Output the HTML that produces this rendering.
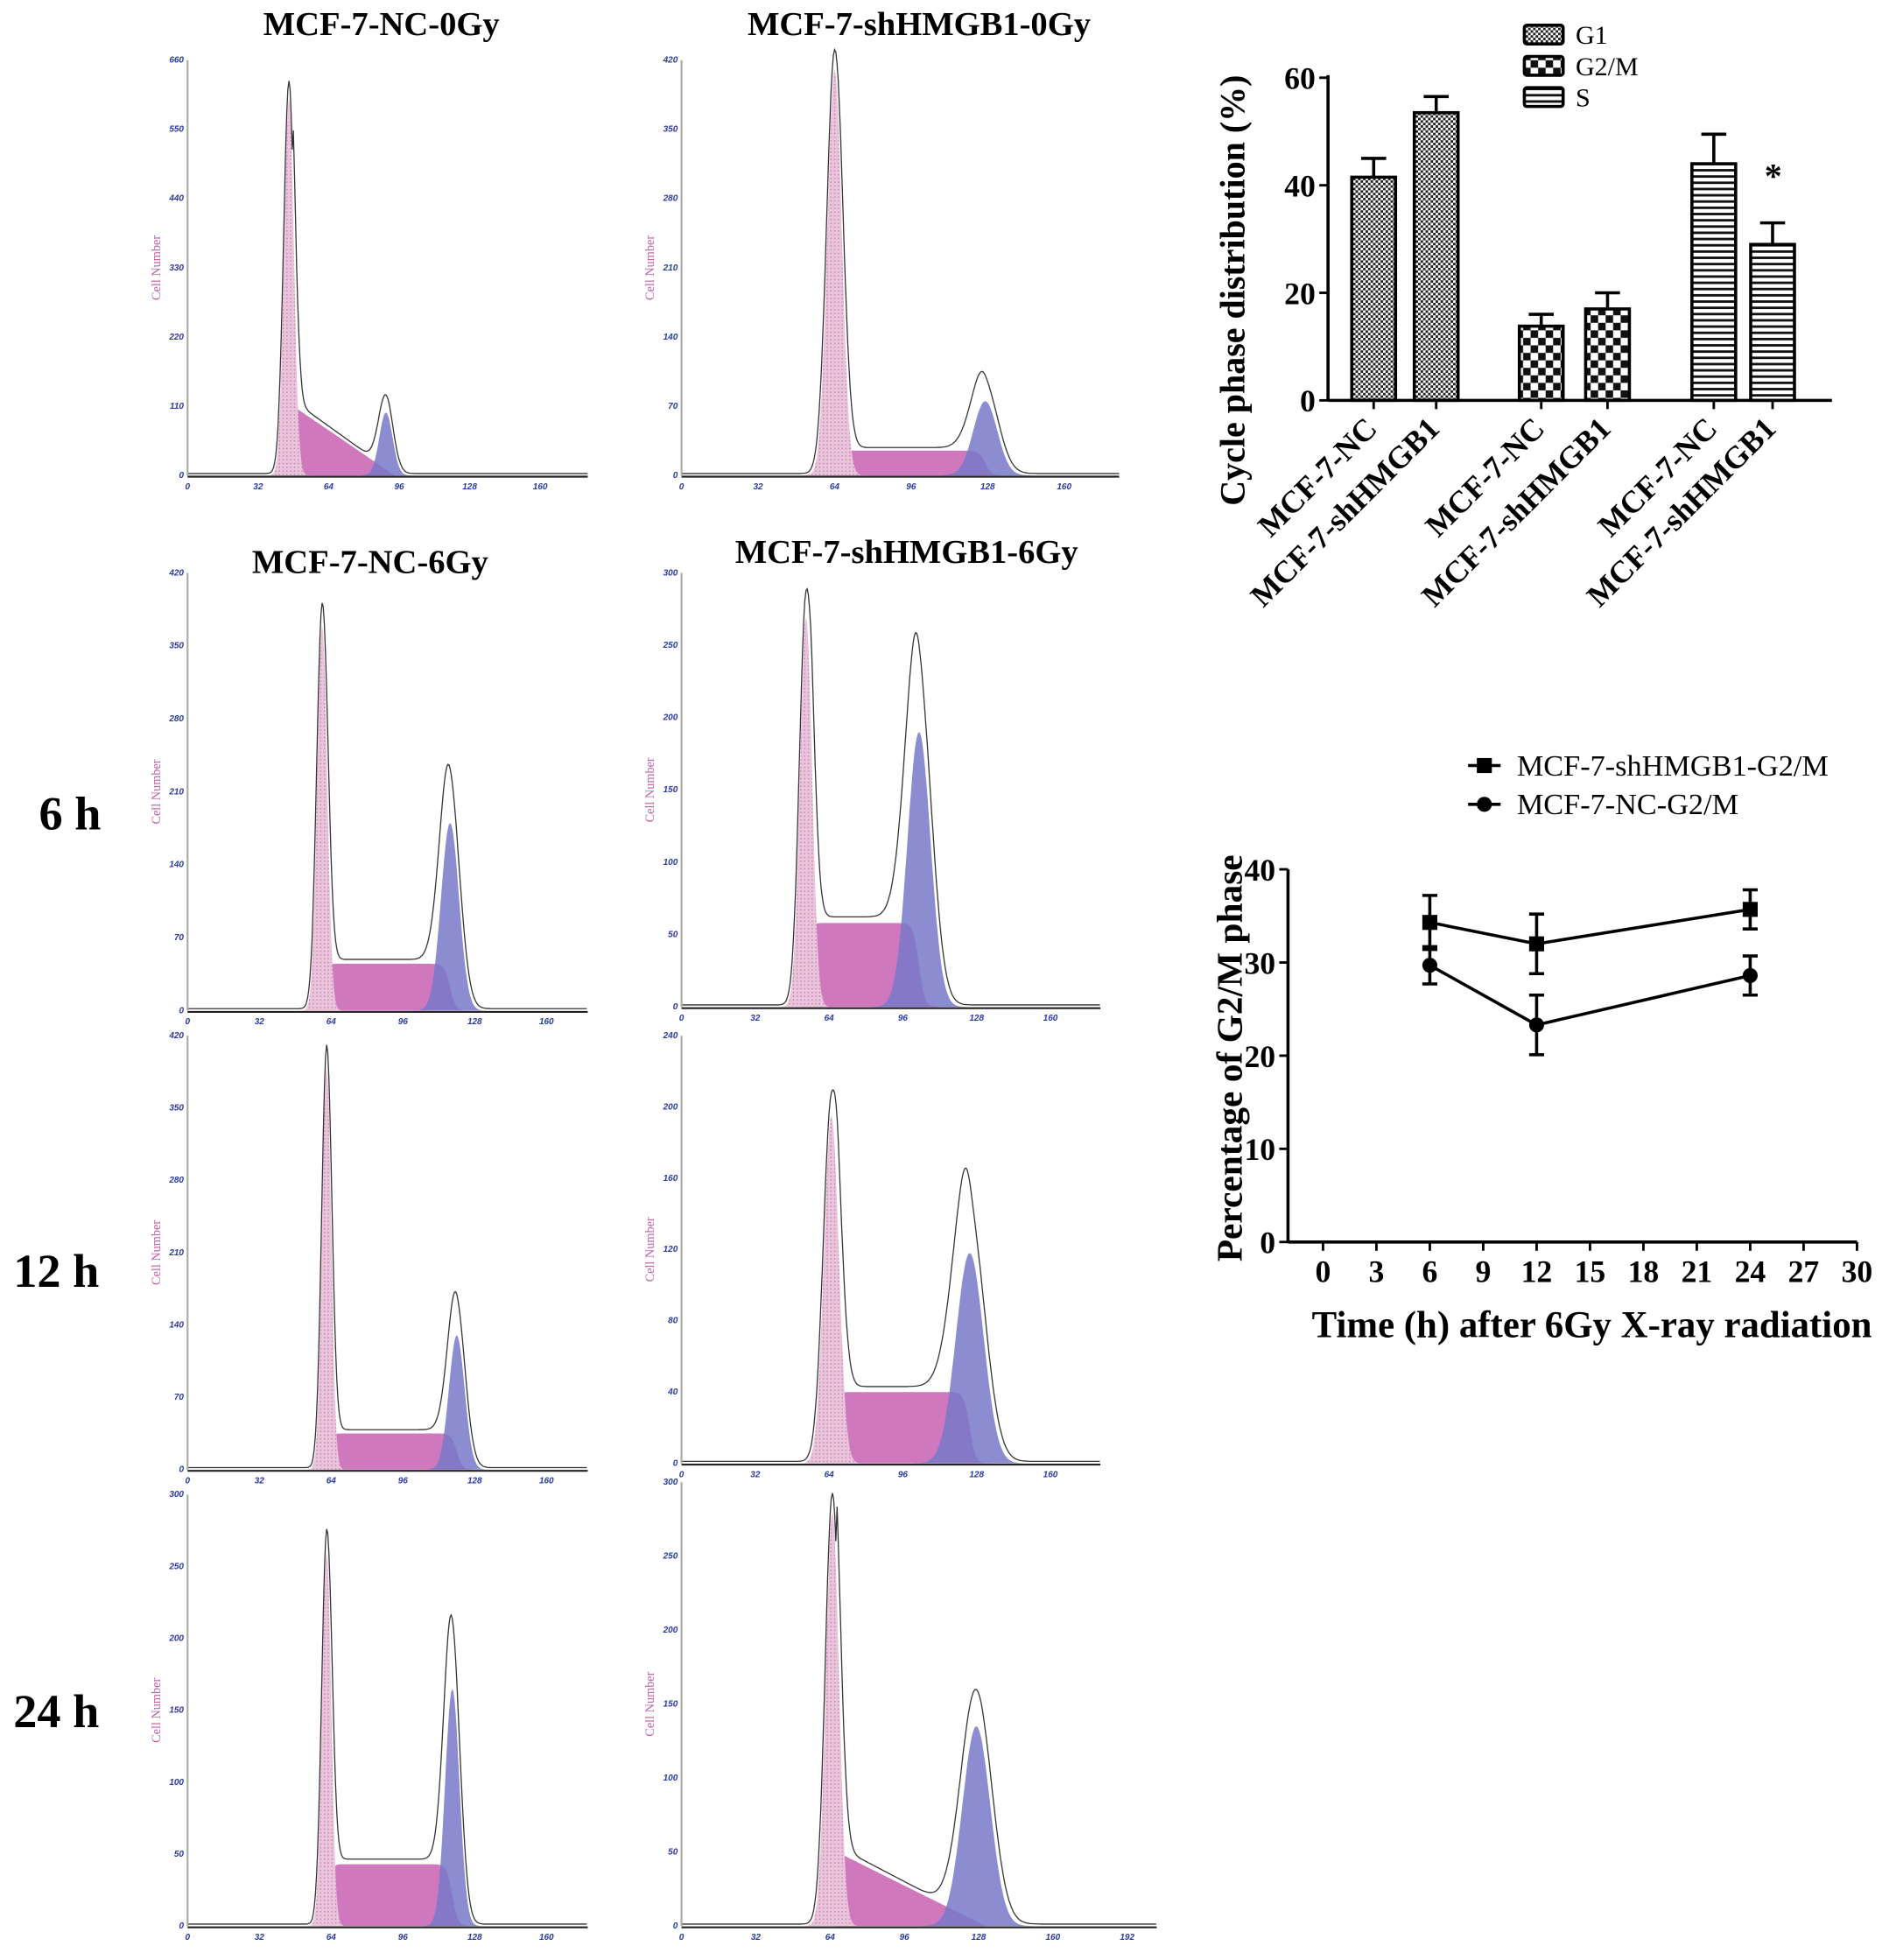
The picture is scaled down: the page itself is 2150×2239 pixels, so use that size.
<!DOCTYPE html>
<html><head><meta charset="utf-8"><style>
html,body{margin:0;padding:0;background:#fff}
svg{display:block}
text{font-family:"Liberation Serif",serif}
.b{font-weight:bold}
.tk{font-family:"Liberation Sans",sans-serif;font-size:7px;fill:#2a3aa0;font-weight:bold;font-style:italic}
</style></head><body>
<svg id="root" width="2150" height="2239" viewBox="0 0 1505 1567" xmlns="http://www.w3.org/2000/svg">
<defs>
<pattern id="pG1" width="4" height="4" patternUnits="userSpaceOnUse"><rect width="4" height="4" fill="#fff"/><rect width="2" height="2" fill="#222"/><rect x="2" y="2" width="2" height="2" fill="#222"/></pattern>
<pattern id="pG2" width="12" height="12" patternUnits="userSpaceOnUse"><rect width="12" height="12" fill="#fff"/><rect width="6" height="6" fill="#111"/><rect x="6" y="6" width="6" height="6" fill="#111"/></pattern>
<pattern id="pS" width="6" height="5" patternUnits="userSpaceOnUse"><rect width="6" height="5" fill="#fff"/><rect width="6" height="2" fill="#111"/></pattern>
<pattern id="dots" width="3" height="3" patternUnits="userSpaceOnUse"><rect width="3" height="3" fill="#ecc3dd"/><circle cx="1.5" cy="1.5" r="0.6" fill="#b98aa8"/></pattern>
</defs>
<g id="hist"></g>
<g id="bars"></g>
<g id="lines"></g>
<text class="b" x="56" y="663" font-size="38" text-anchor="middle">6 h</text>
<text class="b" x="45" y="1029" font-size="38" text-anchor="middle">12 h</text>
<text class="b" x="45" y="1381" font-size="38" text-anchor="middle">24 h</text>
</svg>
<script>
const NS="http://www.w3.org/2000/svg";
function mk(p,tag,at,txt){const e=document.createElementNS(NS,tag);for(const k in at)e.setAttribute(k,at[k]);if(txt!=null)e.textContent=txt;p.appendChild(e);return e;}

/* ---------- Bar chart data ---------- */
const barCats=["MCF-7-NC","MCF-7-shHMGB1","MCF-7-NC","MCF-7-shHMGB1","MCF-7-NC","MCF-7-shHMGB1"];
const barPhase=["G1","G1","G2/M","G2/M","S","S"];
const barVals=[41.5,53.5,13.8,17,44,29];
const barErr=[3.5,3,2.2,3,5.5,4];
const barTicks=[0,20,40,60];
const legendPhases=["G1","G2/M","S"];

/* ---------- Line chart data ---------- */
const timeX=[6,12,24];
const shVals=[34.3,32,35.7];
const shErr=[2.9,3.2,2.1];
const ncVals=[29.7,23.3,28.6];
const ncErr=[2.0,3.2,2.1];
const lineXTicks=[0,3,6,9,12,15,18,21,24,27,30];
const lineYTicks=[0,10,20,30,40];

/* ---------- Histogram panel data (channel units / counts) ---------- */
const histTitles=["MCF-7-NC-0Gy","MCF-7-shHMGB1-0Gy","MCF-7-NC-6Gy","MCF-7-shHMGB1-6Gy","","","",""];
const histYMax=[660,420,420,300,420,240,300,300];
const histG1Mean=[46,64,60,54,62,65,62,65];
const histG1Height=[600,410,370,270,390,195,260,280];
const histG1Sd=[2.2,3,2.2,2.6,2.0,3.2,2.0,2.8];
const histSLevel=[110,25,45,58,35,40,43,50];
const histG2Mean=[90,127,117,103,120,125,118,127];
const histG2Height=[100,75,180,190,130,118,165,135];
const histG2Sd=[3,5,4,5,3.5,6,3.2,6];
const histSType=["tri","flat","flat","flat","flat","flat","flat","tri"];

const panelBox=[
 {x0:150,top:48,bot:380,x160:432,xe:470,tx:305,ty:28},
 {x0:545,top:48,bot:380,x160:851,xe:895,tx:735,ty:28},
 {x0:150,top:458,bot:808,x160:437,xe:470,tx:296,ty:458},
 {x0:545,top:458,bot:805,x160:840,xe:880,tx:725,ty:450},
 {x0:150,top:828,bot:1175,x160:437,xe:470},
 {x0:545,top:828,bot:1170,x160:840,xe:880},
 {x0:150,top:1195,bot:1540,x160:437,xe:470},
 {x0:545,top:1185,bot:1540,x160:842,xe:925}];

const H=document.getElementById('hist');
function gauss(c,m,h,s){return h*Math.exp(-(c-m)*(c-m)/(2*s*s));}
function sig(z){return 1/(1+Math.exp(-z));}
panelBox.forEach((b,i)=>{
  const g=mk(H,'g',{});
  
  
  const sx=(b.x160-b.x0)/160, ymax=histYMax[i];
  const X=c=>b.x0+c*sx, Y=v=>b.bot-v/ymax*(b.bot-b.top);
  const m1=histG1Mean[i], m2=histG2Mean[i];
  const sComp=c=>{
    const lv=histSLevel[i];
    if(histSType[i]==="tri"){ if(c<m1+2||c>m2+4) return 0; return lv*(1-(c-m1-2)/(m2+4-m1-2))*sig((c-m1-1)*2);}
    return lv*sig((c-m1-1.5)*1.5)*sig((m2-c)*0.8);
  };
  const cEnd=(b.xe-b.x0)/sx;
  function area(f,fill,name){
    let d='M'+X(0)+','+Y(0);
    for(let c=0;c<=cEnd;c+=0.5){d+=' L'+X(c).toFixed(1)+','+Y(f(c)).toFixed(1);}
    d+=' L'+X(cEnd)+','+Y(0)+'Z';
    const p=mk(g,'path',{d:d,fill:fill,stroke:'none'});
    
    
  }
  area(c=>sComp(c),'#cf78bd','s-phase-area');
  area(c=>gauss(c,m2,histG2Height[i],histG2Sd[i]),'rgba(120,120,200,0.85)','g2-phase-area');
  area(c=>gauss(c,m1,histG1Height[i],histG1Sd[i]),'url(#dots)','g1-phase-area');
  let d='';
  for(let c=0;c<=cEnd;c+=0.5){
    const v=gauss(c,m1,histG1Height[i]*1.04,histG1Sd[i]*1.1)+sComp(c)*1.05+gauss(c,m2,histG2Height[i]*1.15,histG2Sd[i]*1.1)+3/660*ymax;
    d+=(c===0?'M':' L')+X(c).toFixed(1)+','+Y(v).toFixed(1);
  }
  const o=mk(g,'path',{d:d,fill:'none',stroke:'#333','stroke-width':0.9});
  
  
  const ya=mk(g,'line',{x1:b.x0,y1:b.top,x2:b.x0,y2:b.bot,stroke:'#aaa','stroke-width':1.5});
  
  
  const xa=mk(g,'line',{x1:b.x0,y1:b.bot+1,x2:b.xe,y2:b.bot+1,stroke:'#222','stroke-width':1.5});
  
  
  const step=ymax/6;
  for(let k=0;k<=6;k++){
    const t=mk(g,'text',{class:'tk',x:b.x0-3,y:Y(k*step)+2,'text-anchor':'end'},String(Math.round(k*step)));
    
    
  }
  const nx=Math.floor(cEnd/32);
  for(let k=0;k<=nx;k++){
    const t=mk(g,'text',{class:'tk',x:X(k*32),y:b.bot+11,'text-anchor':'middle'},String(k*32));
    
    
  }
  const cy=(b.top+b.bot)/2;
  const yl=mk(g,'text',{x:b.x0-22,y:cy,'font-size':10,fill:'#c060a8','font-family':'Liberation Sans, sans-serif','text-anchor':'middle',transform:'rotate(-90 '+(b.x0-22)+' '+cy+')'},'Cell Number');
  
  
  if(histTitles[i]){
    const tt=mk(g,'text',{class:'b',x:b.tx,y:b.ty,'font-size':27,'text-anchor':'middle'},histTitles[i]);
    
    
  }
});

/* ---------- Bar chart ---------- */
const B=document.getElementById('bars');
const bx0=1062,by0=320,by60=62,bxe=1465;
const yB=v=>by0-v*(by0-by60)/60;
const barLeft=[1081,1131,1215,1268,1353,1400];
const bw=35;
const fillFor={"G1":"url(#pG1)","G2/M":"url(#pG2)","S":"url(#pS)"};
barVals.forEach((v,i)=>{
  const cx=barLeft[i]+bw/2;
  const e=mk(B,'line',{x1:cx,y1:yB(v),x2:cx,y2:yB(v+barErr[i]),stroke:'#000','stroke-width':2.5});
  
  
  const c=mk(B,'line',{x1:cx-10,y1:yB(v+barErr[i]),x2:cx+10,y2:yB(v+barErr[i]),stroke:'#000','stroke-width':2.5});
  
  
  const r=mk(B,'rect',{x:barLeft[i],y:yB(v),width:bw,height:yB(0)-yB(v),fill:fillFor[barPhase[i]],stroke:'#000','stroke-width':2.5});
  
  
  const t=mk(B,'line',{x1:cx,y1:by0,x2:cx,y2:by0+7,stroke:'#000','stroke-width':2});
  
  
  const l=mk(B,'text',{class:'b',x:cx+4,y:by0+24,'font-size':25,'text-anchor':'end',transform:'rotate(-45 '+(cx+4)+' '+(by0+24)+')'},barCats[i]);
  
  
});
const star=mk(B,'text',{class:'b',x:1418,y:150,'font-size':28,'text-anchor':'middle'},'*');


const bya=mk(B,'line',{x1:bx0,y1:by60-2,x2:bx0,y2:by0,stroke:'#000','stroke-width':2.5});


const bxa=mk(B,'line',{x1:bx0,y1:by0,x2:bxe,y2:by0,stroke:'#000','stroke-width':2.5});


barTicks.forEach(v=>{
  const t=mk(B,'line',{x1:bx0-7,y1:yB(v),x2:bx0,y2:yB(v),stroke:'#000','stroke-width':2});
  
  
  const l=mk(B,'text',{class:'b',x:bx0-10,y:yB(v)+9,'font-size':25,'text-anchor':'end'},String(v));
  
  
});
const byt=mk(B,'text',{class:'b',x:995,y:232,'font-size':28,'text-anchor':'middle',transform:'rotate(-90 995 232)'},'Cycle phase distribution (%)');


legendPhases.forEach((p,k)=>{
  const y=20+k*25;
  const r=mk(B,'rect',{x:1219,y:y,width:31,height:15,fill:fillFor[p],stroke:'#000','stroke-width':2.5,rx:2});
  
  
  const t=mk(B,'text',{x:1260,y:y+15,'font-size':21},p);
  
  
});

/* ---------- Line chart ---------- */
const L=document.getElementById('lines');
const lx0=1058,lx30=1485,ly0=993,ly40=695;
const xL=v=>lx0+v*(lx30-lx0)/30, yL=v=>ly0-v*(ly0-ly40)/40;
const la=mk(L,'line',{x1:lx0-28,y1:ly0,x2:lx30,y2:ly0,stroke:'#000','stroke-width':2.5});


const lya=mk(L,'line',{x1:lx0-28,y1:ly40,x2:lx0-28,y2:ly0,stroke:'#000','stroke-width':2.5});


lineXTicks.forEach(v=>{
  const t=mk(L,'line',{x1:xL(v),y1:ly0,x2:xL(v),y2:ly0+7,stroke:'#000','stroke-width':2});
  
  
  const l=mk(L,'text',{class:'b',x:xL(v),y:ly0+32,'font-size':25,'text-anchor':'middle'},String(v));
  
  
});
lineYTicks.forEach(v=>{
  const t=mk(L,'line',{x1:lx0-35,y1:yL(v),x2:lx0-28,y2:yL(v),stroke:'#000','stroke-width':2});
  
  
  const l=mk(L,'text',{class:'b',x:lx0-38,y:yL(v)+9,'font-size':25,'text-anchor':'end'},String(v));
  
  
});
function series(vals,errs,shape,name){
  const g=mk(L,'g',{});
  
  
  const pts=vals.map((v,i)=>xL(timeX[i])+','+yL(v)).join(' ');
  const pl=mk(g,'polyline',{points:pts,fill:'none',stroke:'#000','stroke-width':2.5});
  
  
  vals.forEach((v,i)=>{
    const x=xL(timeX[i]);
    const e=mk(g,'path',{d:'M'+x+','+yL(v-errs[i])+' V'+yL(v+errs[i])+' M'+(x-6)+','+yL(v+errs[i])+' h12 M'+(x-6)+','+yL(v-errs[i])+' h12',stroke:'#000','stroke-width':2.5,fill:'none'});
    
    
    const m=shape==='sq'?mk(g,'rect',{x:x-6,y:yL(v)-6,width:12,height:12,fill:'#000'}):mk(g,'circle',{cx:x,cy:yL(v),r:6,fill:'#000'});
    
    
  });
}
series(shVals,shErr,'sq','series-shHMGB1');
series(ncVals,ncErr,'ci','series-NC');
const lyt=mk(L,'text',{class:'b',x:993,y:846,'font-size':29,'text-anchor':'middle',transform:'rotate(-90 993 846)'},'Percentage of G2/M phase');


const lxt=mk(L,'text',{class:'b',x:1273,y:1069,'font-size':30,'text-anchor':'middle'},'Time (h) after 6Gy X-ray radiation');


[["MCF-7-shHMGB1-G2/M",'sq',612],["MCF-7-NC-G2/M",'ci',643]].forEach(([txt,sh,y])=>{
  const ln=mk(L,'line',{x1:1174,y1:y,x2:1200,y2:y,stroke:'#000','stroke-width':2.5});
  
  
  const m=sh==='sq'?mk(L,'rect',{x:1181,y:y-6,width:12,height:12,fill:'#000'}):mk(L,'circle',{cx:1187,cy:y,r:6,fill:'#000'});
  
  
  const t=mk(L,'text',{x:1213,y:y+8,'font-size':24},txt);
  
  
});
</script>
</body></html>
